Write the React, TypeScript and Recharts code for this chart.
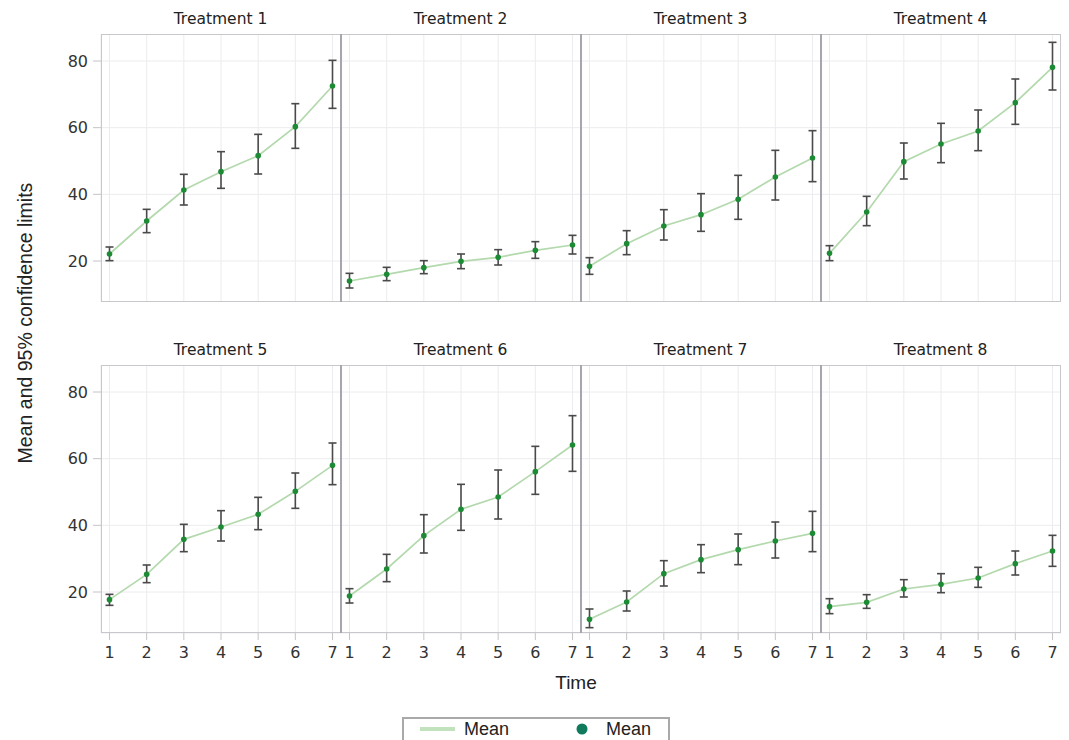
import React from 'react';
import { LineChart, Line, XAxis, YAxis, CartesianGrid, ErrorBar } from 'recharts';

// time points and axis ticks
const timePoints = [1, 2, 3, 4, 5, 6, 7];
const yTicks = [20, 40, 60, 80];
const panelTitles = [
  'Treatment 1', 'Treatment 2', 'Treatment 3', 'Treatment 4',
  'Treatment 5', 'Treatment 6', 'Treatment 7', 'Treatment 8',
];

// mean and 95% confidence limits
const meanT1 = [22.1, 32.0, 41.3, 46.8, 51.6, 60.3, 72.5];
const lowerT1 = [20.1, 28.5, 36.8, 41.8, 46.1, 53.8, 65.8];
const upperT1 = [24.2, 35.5, 46.0, 52.8, 58.0, 67.2, 80.2];

const meanT2 = [14.0, 16.0, 18.0, 19.9, 21.1, 23.2, 24.8];
const lowerT2 = [11.9, 14.1, 16.2, 17.7, 18.8, 20.8, 22.1];
const upperT2 = [16.3, 18.1, 20.1, 22.1, 23.4, 25.8, 27.7];

const meanT3 = [18.4, 25.2, 30.5, 33.9, 38.5, 45.2, 50.9];
const lowerT3 = [16.0, 21.9, 26.3, 28.9, 32.5, 38.3, 43.8];
const upperT3 = [21.0, 29.1, 35.4, 40.2, 45.7, 53.2, 59.1];

const meanT4 = [22.3, 34.7, 49.8, 55.1, 59.0, 67.5, 78.1];
const lowerT4 = [20.1, 30.6, 44.6, 49.5, 53.1, 61.0, 71.3];
const upperT4 = [24.6, 39.4, 55.4, 61.3, 65.3, 74.6, 85.6];

const meanT5 = [17.7, 25.3, 35.8, 39.5, 43.3, 50.2, 58.0];
const lowerT5 = [16.0, 22.8, 32.1, 35.3, 38.7, 45.1, 52.2];
const upperT5 = [19.3, 28.1, 40.3, 44.4, 48.4, 55.7, 64.7];

const meanT6 = [18.8, 26.9, 36.9, 44.8, 48.5, 56.1, 64.1];
const lowerT6 = [16.7, 23.1, 31.7, 38.5, 41.9, 49.3, 56.2];
const upperT6 = [21.0, 31.3, 43.2, 52.3, 56.6, 63.7, 72.9];

const meanT7 = [11.8, 17.0, 25.5, 29.7, 32.7, 35.3, 37.6];
const lowerT7 = [9.3, 14.3, 21.8, 25.8, 28.2, 30.2, 32.1];
const upperT7 = [14.9, 20.3, 29.4, 34.2, 37.4, 41.0, 44.2];

const meanT8 = [15.6, 16.9, 20.9, 22.3, 24.2, 28.5, 32.3];
const lowerT8 = [13.5, 15.1, 18.5, 19.8, 21.4, 25.1, 27.7];
const upperT8 = [18.0, 19.2, 23.7, 25.5, 27.4, 32.3, 37.0];

const means = [meanT1, meanT2, meanT3, meanT4, meanT5, meanT6, meanT7, meanT8];
const lowers = [lowerT1, lowerT2, lowerT3, lowerT4, lowerT5, lowerT6, lowerT7, lowerT8];
const uppers = [upperT1, upperT2, upperT3, upperT4, upperT5, upperT6, upperT7, upperT8];

// layout
const PANEL_W = 240;
const PANEL_H = 268;
const COL_LEFT = [100.5, 340.5, 580.5, 820.5];
const ROW_TOP = [34, 365];
const Y_AXIS_W = 50;
const X_AXIS_H = 34;
const Y_DOMAIN: [number, number] = [7.7, 88.1];

const tickFont = { fontSize: 16, fill: '#333', fontFamily: 'DejaVu Sans' };
const labelFont = 'Liberation Sans, Arial, sans-serif';

const buildRows = (mean: number[], lower: number[], upper: number[]) =>
  timePoints.map((t, i) => ({
    time: t,
    mean: mean[i],
    err: [mean[i] - lower[i], upper[i] - mean[i]],
  }));

const Panel = ({ idx }: { idx: number }) => {
  const col = idx % 4;
  const row = Math.floor(idx / 4);
  const showY = col === 0;
  const showX = row === 1;
  const data = buildRows(means[idx], lowers[idx], uppers[idx]);
  const left = COL_LEFT[col] - (showY ? Y_AXIS_W : 0);

  return (
    <>
      <div
        style={{
          position: 'absolute',
          left: COL_LEFT[col],
          top: ROW_TOP[row] - 25,
          width: PANEL_W,
          textAlign: 'center',
          fontFamily: 'DejaVu Sans',
          fontSize: 15.5,
          color: '#222',
          lineHeight: '20px',
        }}
      >
        {panelTitles[idx]}
      </div>
      <div style={{ position: 'absolute', left, top: ROW_TOP[row] }}>
        <LineChart
          width={PANEL_W + (showY ? Y_AXIS_W : 0)}
          height={PANEL_H + (showX ? X_AXIS_H : 0)}
          data={data}
          margin={{ top: 0, right: 0, bottom: 0, left: 0 }}
        >
          <CartesianGrid stroke="#ececf0" strokeWidth={1} />
          <XAxis
            type="number"
            dataKey="time"
            domain={[1, 7]}
            ticks={timePoints}
            interval={0}
            padding={{ left: 8.5, right: 8.5 }}
            hide={!showX}
            height={X_AXIS_H}
            axisLine={false}
            tickSize={7}
            tickMargin={7}
            tickLine={{ stroke: '#c4c4c4' }}
            tick={tickFont}
          />
          <YAxis
            type="number"
            domain={Y_DOMAIN}
            allowDataOverflow
            ticks={yTicks}
            interval={0}
            hide={!showY}
            width={Y_AXIS_W}
            axisLine={false}
            tickSize={8}
            tickMargin={5}
            tickLine={{ stroke: '#c4c4c4' }}
            tick={tickFont}
          />
          <Line
            dataKey="mean"
            stroke="#b3d9ad"
            strokeWidth={1.7}
            dot={{ r: 2.8, fill: '#1d8a35', stroke: 'none' }}
            activeDot={false}
            isAnimationActive={false}
          >
            <ErrorBar dataKey="err" direction="y" width={4} stroke="#4a4a4a" strokeWidth={1.6} />
          </Line>
        </LineChart>
      </div>
    </>
  );
};

const Frames = () => (
  <>
    {ROW_TOP.map((top) => (
      <React.Fragment key={top}>
        <div
          style={{
            position: 'absolute',
            left: COL_LEFT[0],
            top,
            width: PANEL_W * 4,
            height: PANEL_H,
            border: '1.5px solid #c8c8cc',
            boxSizing: 'border-box',
            pointerEvents: 'none',
          }}
        />
        {COL_LEFT.slice(1).map((x) => (
          <div
            key={x}
            style={{
              position: 'absolute',
              left: x - 1,
              top,
              width: 2,
              height: PANEL_H,
              background: '#a6a6ae',
              pointerEvents: 'none',
            }}
          />
        ))}
      </React.Fragment>
    ))}
  </>
);

const App = () => {
  return (
    <div
      style={{
        position: 'absolute',
        left: 0,
        top: 0,
        width: 1069,
        height: 740,
        overflow: 'hidden',
        background: '#fff',
      }}
    >
      {panelTitles.map((_, i) => (
        <Panel key={i} idx={i} />
      ))}
      <Frames />
      {/* y axis label */}
      <div
        style={{
          position: 'absolute',
          left: 25 - 160,
          top: 323 - 12,
          width: 320,
          height: 24,
          lineHeight: '24px',
          textAlign: 'center',
          transform: 'rotate(-90deg)',
          fontFamily: labelFont,
          fontSize: 19.5,
          color: '#222',
        }}
      >
        Mean and 95% confidence limits
      </div>
      {/* x axis label */}
      <div
        style={{
          position: 'absolute',
          left: 476,
          top: 671,
          width: 200,
          lineHeight: '24px',
          textAlign: 'center',
          fontFamily: labelFont,
          fontSize: 19,
          color: '#222',
        }}
      >
        Time
      </div>
      {/* legend */}
      <div
        style={{
          position: 'absolute',
          left: 402,
          top: 717,
          width: 268,
          height: 32,
          border: '2px solid #a9a9a9',
          boxSizing: 'border-box',
        }}
      >
        <svg width={264} height={28} style={{ display: 'block' }}>
          <line x1={16} x2={51} y1={10} y2={10} stroke="#c2e2bd" strokeWidth={4} />
          <text x={60} y={10} dominantBaseline="central" fontFamily={labelFont} fontSize={18} fill="#222">
            Mean
          </text>
          <circle cx={178} cy={10} r={5.5} fill="#0f7a5c" />
          <text x={202} y={10} dominantBaseline="central" fontFamily={labelFont} fontSize={18} fill="#222">
            Mean
          </text>
        </svg>
      </div>
    </div>
  );
};

export default App;
